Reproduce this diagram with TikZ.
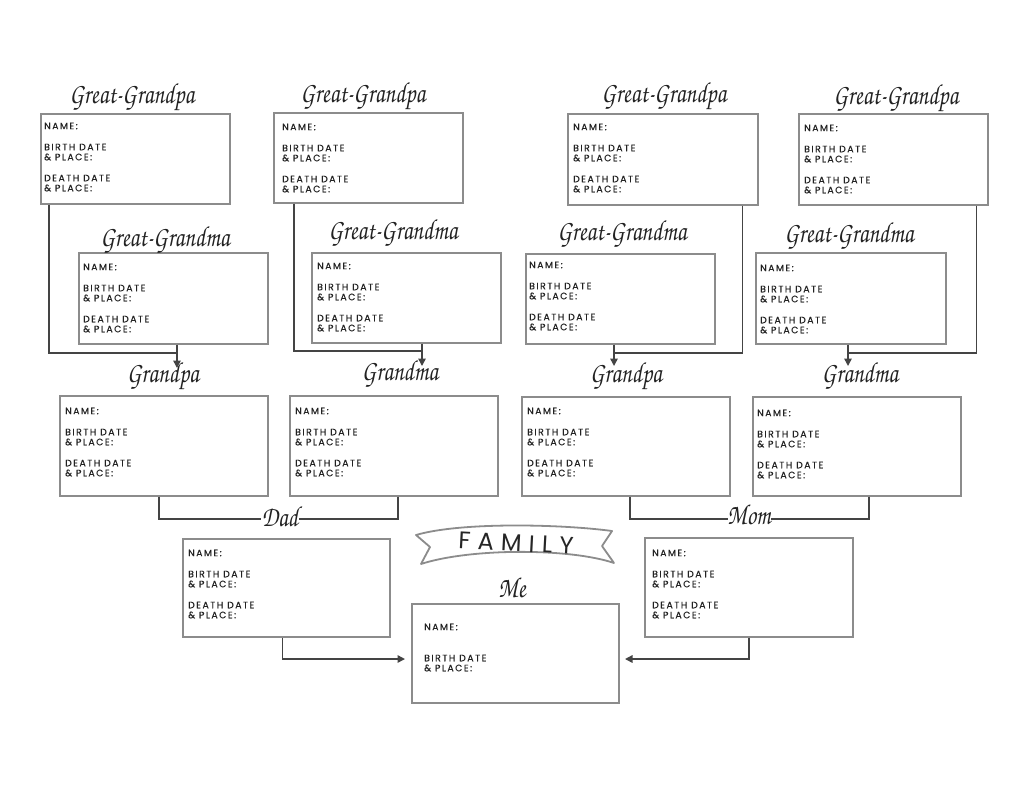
\documentclass[tikz,border=0pt]{standalone}
\usepackage{fontspec}
\setmainfont{Poppins}
\newfontfamily\scriptf{texgyrechorus-mediumitalic.otf}
\newfontfamily\boxf[LetterSpace=16,FakeBold=0.4]{Poppins}
\newfontfamily\banf[LetterSpace=30]{Poppins}
\usetikzlibrary{arrows.meta}
\definecolor{boxgray}{HTML}{8C8C8C}
\definecolor{linegray}{HTML}{444444}
\definecolor{inkgray}{HTML}{222222}
\tikzset{
  pbox/.style={draw=boxgray, line width=1.6pt, anchor=north west, inner sep=0pt},
  ptxt/.style={anchor=west, inner sep=0pt, font=\boxf\fontsize{9.3}{10}\selectfont, text=inkgray},
  cursive/.style={anchor=base, inner sep=1pt, font=\scriptf\fontsize{29}{30}\selectfont, text=inkgray},
  conn/.style={draw=linegray, line width=1.5pt},
  arr/.style={conn, -{Triangle[width=7.5pt,length=7.5pt]}},
}
\newcommand\cur[1]{\scalebox{0.8}[1]{#1}}
% #1 name, #2 x, #3 y, #4 w, #5 h, #6 text dx, #7 text dy
\newcommand\fullbox[7]{%
  \node[pbox, minimum width=#4pt, minimum height=#5pt] (#1) at (#2,#3) {};
  \node[ptxt] (#1-nm) at ([shift={(#6,#7)}]#1.north west) {NAME:};
  \node[ptxt] (#1-b1) at ([shift={(#6,#7+21)}]#1.north west) {BIRTH DATE};
  \node[ptxt] (#1-b2) at ([shift={(#6,#7+31)}]#1.north west) {\&\ PLACE:};
  \node[ptxt] (#1-d1) at ([shift={(#6,#7+52)}]#1.north west) {DEATH DATE};
  \node[ptxt] (#1-d2) at ([shift={(#6,#7+62)}]#1.north west) {\&\ PLACE:};
}
\begin{document}
\begin{tikzpicture}[x=1pt,y=-1pt]
\fill[white] (0,0) rectangle (1024,792);
\useasboundingbox (0,0) rectangle (1024,792);

% great-grandparents
\fullbox{a1}{40}{113}{189}{90}{4}{13}
\fullbox{a2}{273}{112}{189}{90}{9}{15}
\fullbox{a3}{567}{113}{190}{91}{6}{14}
\fullbox{a4}{798}{113}{189}{91}{6}{15}
\fullbox{b1}{78}{252}{189}{91}{5}{15}
\fullbox{b2}{311}{252}{189}{90}{6}{14}
\fullbox{b3}{525}{253}{189}{90}{4}{12}
\fullbox{b4}{755}{252}{190}{91}{5}{16}
% grandparents
\fullbox{c1}{59}{395}{208}{100}{6}{16}
\fullbox{c2}{289}{395}{208}{100}{6}{16}
\fullbox{c3}{521}{396}{208}{99}{6}{15}
\fullbox{c4}{752}{396}{208}{99}{5}{17}
% parents
\fullbox{dadbox}{182}{538}{207}{98}{6}{15}
\fullbox{mombox}{644}{537}{208}{99}{8}{16}
% me
\node[pbox, minimum width=207pt, minimum height=99pt] (me) at (411,603) {};
\node[ptxt] (me-nm) at ([shift={(13,24)}]me.north west) {NAME:};
\node[ptxt] (me-b1) at ([shift={(13,55)}]me.north west) {BIRTH DATE};
\node[ptxt] (me-b2) at ([shift={(13,65)}]me.north west) {\&\ PLACE:};

% cursive labels
\node[cursive] (la1) at (132,103) {\cur{Great-Grandpa}};
\node[cursive] (la2) at (363,102) {\cur{Great-Grandpa}};
\node[cursive] (la3) at (664,102) {\cur{Great-Grandpa}};
\node[cursive] (la4) at (896,104) {\cur{Great-Grandpa}};
\node[cursive] (lb1) at (165,246) {\cur{Great-Grandma}};
\node[cursive] (lb2) at (393,239) {\cur{Great-Grandma}};
\node[cursive] (lb3) at (622,240) {\cur{Great-Grandma}};
\node[cursive] (lb4) at (849,242) {\cur{Great-Grandma}};
\node[cursive] (lc1) at (163,382) {\cur{Grandpa}};
\node[cursive] (lc2) at (400,380) {\cur{Grandma}};
\node[cursive] (lc3) at (626,382) {\cur{Grandpa}};
\node[cursive] (lc4) at (860,382) {\cur{Grandma}};
\node[cursive] (dad) at (280,526) {\cur{Dad}};
\node[cursive] (mom) at (749,524) {\cur{Mom}};
\node[cursive] (melabel) at (512,597) {\cur{Me}};

% connectors great-grandparents -> grandparents
\coordinate (j1) at (177,353); \coordinate (t1) at (177,368);
\draw[conn] ([xshift=9pt]a1.south west) |- (j1);
\draw[arr] (b1.south -| t1) -- (t1);
\coordinate (j2) at (422,351); \coordinate (t2) at (422,366);
\draw[conn] ([xshift=21pt]a2.south west) |- (j2);
\draw[arr] (b2.south -| t2) -- (t2);
\coordinate (j3) at (614,353); \coordinate (t3) at (614,366);
\draw[conn] ([xshift=-16pt]a3.south east) |- (j3);
\draw[arr] (b3.south -| t3) -- (t3);
\coordinate (j4) at (848,353); \coordinate (t4) at (848,366);
\draw[conn] ([xshift=-12pt]a4.south east) |- (j4);
\draw[arr] (b4.south -| t4) -- (t4);

% grandparents -> parents
\coordinate (dl) at (261,519); \coordinate (dr) at (299,519);
\draw[conn] ([xshift=-5pt]c1.south) |- (dl);
\draw[conn] ([xshift=4pt]c2.south) |- (dr);
\coordinate (ml) at (728,519); \coordinate (mr) at (771,519);
\draw[conn] ([xshift=4pt]c3.south) |- (ml);
\draw[conn] ([xshift=12pt]c4.south) |- (mr);

% parents -> me
\coordinate (pl) at (405,659); \coordinate (pr) at (625,659);
\draw[arr] ([xshift=-4pt]dadbox.south) |- (pl);
\draw[arr] ([xshift=0pt]mombox.south) |- (pr);

% banner
\draw[boxgray, line width=1.8pt, fill=white, line join=round]
  (416,535) .. controls (460,522) and (560,524) .. (612,531)
  -- (602,546) -- (614,563)
  .. controls (570,548) and (470,548) .. (421,564)
  -- (430,547) -- cycle;
\node[inner sep=0pt, rotate=-3, font=\banf\fontsize{24}{26}\selectfont, text=black!85] (family) at (516,543) {FAMILY};
\end{tikzpicture}
\end{document}
